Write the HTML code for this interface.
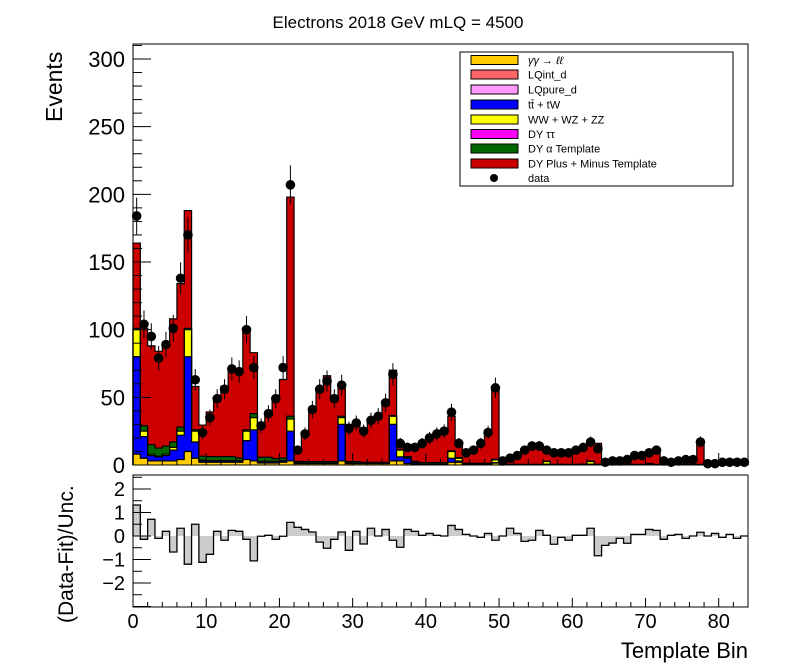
<!DOCTYPE html>
<html><head><meta charset="utf-8">
<style>
html,body{margin:0;padding:0;background:#fff;}
svg{display:block;font-family:"Liberation Sans",Arial,sans-serif;}
</style></head>
<body>
<svg id="chart" width="796" height="672" viewBox="0 0 796 672" xmlns="http://www.w3.org/2000/svg">
<rect width="796" height="672" fill="#fff"/>
<text x="398" y="28" font-size="17" text-anchor="middle">Electrons 2018  GeV mLQ = 4500</text>
<g id="main"></g>
<g id="ratio"></g>
<text transform="translate(62,122) rotate(-90)" font-size="23" text-anchor="start">Events</text>
<text transform="translate(73,623) rotate(-90)" font-size="21" text-anchor="start">(Data-Fit)/Unc.</text>
<text x="748" y="658" font-size="22" text-anchor="end">Template Bin</text>
<g>
<rect x="460" y="52" width="273" height="134" fill="#fff" stroke="#000" stroke-width="1"/>
<rect x="471" y="55.5" width="47" height="9" fill="#ffcc00" stroke="#000"/><text x="528" y="64" font-size="11" font-style="italic">γγ → ℓℓ</text>
<rect x="471" y="70" width="47" height="9" fill="#ff6666" stroke="#000"/><text x="528" y="78.5" font-size="11">LQint_d</text>
<rect x="471" y="85" width="47" height="9" fill="#ff99ff" stroke="#000"/><text x="528" y="93.5" font-size="11">LQpure_d</text>
<rect x="471" y="100" width="47" height="9" fill="#0000ff" stroke="#000"/><text x="528" y="108.5" font-size="11">tt̄ + tW</text>
<rect x="471" y="115" width="47" height="9" fill="#ffff00" stroke="#000"/><text x="528" y="123.5" font-size="11">WW + WZ + ZZ</text>
<rect x="471" y="129.5" width="47" height="9" fill="#ff00ff" stroke="#000"/><text x="528" y="138" font-size="11">DY ττ</text>
<rect x="471" y="144" width="47" height="9" fill="#006600" stroke="#000"/><text x="528" y="152.5" font-size="11">DY α Template</text>
<rect x="471" y="159" width="47" height="9" fill="#cc0000" stroke="#000"/><text x="528" y="167.5" font-size="11">DY Plus + Minus Template</text>
<circle cx="494" cy="178" r="4" fill="#000"/><text x="528" y="182" font-size="11">data</text>
</g>
</svg>
<script>
const dataCounts=[184,104,95,79,89,101,138,170,63,24,35,49,56,71,69,100,72,29,38,49,72,207,11,23,41,56,62,49,59,27,31,25,33,36,46,67,16,13,13,16,20,23,25,39,16,9,11,16,24,57,3,5,7,11,14,14,11,9,9,9,11,13,17,12,2,3,3,4,7,7,9,11,3,2,3,4,4,17,1,1,2,2,2,2];
const bkgYY=[8,5,3,3,3,3,4,10,5,2,2,2,2,2,2,4,3,1.5,1.5,1.5,2,3,1,1,1,1,1,1,3,1,1,1,1,1,1,3,3,1,0.5,0.3,0.3,0.3,0.3,2,2,0.3,0.3,0.3,0.3,1.5,0.1,0.1,0.1,0.1,0.1,0.1,0.5,0.1,0.1,0.1,0.1,0.1,0.5,0.1,0.1,0.1,0.1,0.1,0.1,0.1,0.3,0.1,0.1,0.1,0.1,0.1,0.1,0.1,0.1,0.1,0.1,0.1,0.1,0.1];
const bkgTT=[72,16,4,3,4,8,18,70,12,1,1,1,1,1,1,14,23,1,1,1,1,22,0.5,0.3,0.3,0.3,0.3,0.3,27,0.3,0.3,0.3,0.3,0.3,0.3,27,3,4,1,0.3,0.3,0.3,0.3,3,1,0.3,0.3,0.3,0.3,0.3,0.1,0.1,0.1,0.1,0.1,0.1,0.1,0.1,0.1,0.1,0.1,0.3,0.1,0.1,0.1,0.1,0.1,0.1,0.1,0.1,0.1,0.1,0.1,0.1,0.1,0.1,0.1,0.1,0.1,0.1,0.1,0.1,0.1,0.1];
const bkgVV=[20,4,1,0.5,1,2,3,20,8,0.5,0.2,0.2,0.2,0.2,0.2,7,9,0.2,0.2,0.2,0.2,9,0.2,0.2,0.2,0.2,0.2,0.2,5,0.2,0.2,0.2,0.2,0.2,0.2,6,5,0.2,0.2,0.2,0.2,0.2,0.2,5,2,0.2,0.2,0.2,0.2,2,0.1,0.1,0.1,0.1,0.1,0.1,2,0.1,0.1,0.1,0.1,0.1,2,0.1,0.1,0.1,0.1,0.1,0.1,0.1,0.5,0.1,0.1,0.1,0.1,0.1,0.1,0.1,0.1,0.1,0.1,0.1,0.1,0.1];
const bkgDYalpha=[1,4,7,6,6,4,3,1,1,3,3,3,3,3,2,1,3,3,3,2,2,2,1,1,1,1,1,1,1,1,1,0.5,0.5,0.5,0.5,0.5,0.5,1,1,1,1,1,1,0.5,0.5,0.5,0.5,0.5,0.5,0.5,0.2,0.2,0.2,0.2,0.2,0.2,0.2,0.2,0.2,0.2,0.2,0.2,0.2,0.2,0.2,0.2,0.2,0.2,0.2,0.2,0.2,0.2,0.2,0.2,0.2,0.2,0.2,0.2,0.2,0.2,0.2,0.2,0.2,0.2];
const bkgDYpm=[63,72,73,71.5,76,91,106,87,32,23,33,42,52,65,63,74,45,24,31,43,58,162,8.3,20.5,37.5,54.5,63.5,48.5,21,27.5,27.5,25,29,34,42,33.5,4.5,7.8,12.3,14.2,18.2,21.2,23.2,25.5,8.5,7.7,9.7,14.7,22.7,53.7,2.5,4.5,6.5,10.5,14.5,14.5,8.2,8.5,8.5,9.5,10.5,11.3,13.2,15.5,2.5,2.5,2.5,4,6,6.5,7,9.5,2.5,1.5,1.8,3.5,3.5,16,0.5,0.5,1,1.2,1.2,1.2];
const pulls=[1.32,-0.14,0.71,-0.1,0.2,-0.68,0.33,-1.2,0.5,-1.12,-0.78,0.2,-0.18,0.24,0.2,-0.14,-1.06,-0.01,0.03,-0.14,-0.01,0.58,0.37,0.28,0.17,-0.26,-0.52,-0.14,0.17,-0.61,0.2,-0.34,0.33,0,0.28,-0.18,-0.48,0.28,0.2,0.03,0.11,0.03,0,0.45,0.28,0.07,0,-0.06,0.11,-0.18,0,0.33,0.11,-0.23,-0.18,0.24,0.03,-0.35,-0.06,-0.18,0.03,0.03,0.33,-0.84,-0.4,-0.3,-0.1,-0.31,0.07,0.07,0.28,0.24,-0.14,0.03,0.07,-0.1,0,0.16,0,0.11,-0.06,0.07,-0.1,0];
const yTicksMain=[0,50,100,150,200,250,300];
const yTicksRatio=[-2,-1,0,1,2];
const xTicks=[0,10,20,30,40,50,60,70,80];

const NS="http://www.w3.org/2000/svg";
const X0=133,X1=748,NB=84;
const xs=v=>X0+(X1-X0)*v/NB;
const MT=44,MB=465,ys=v=>MB-v*(406/300);
const RT=475,RB=607,yr=v=>536-v*23.5;
function mk(tag,attrs,parent){const e=document.createElementNS(NS,tag);for(const k in attrs)e.setAttribute(k,attrs[k]);parent.appendChild(e);return e;}
const main=document.getElementById('main');
const ratio=document.getElementById('ratio');
const layers=[[bkgYY,'#ffcc00','stack-gamma-gamma'],[bkgTT,'#0000ff','stack-ttbar'],[bkgVV,'#ffff00','stack-diboson'],[bkgDYalpha,'#006600','stack-dy-alpha'],[bkgDYpm,'#cc0000','stack-dy-plus-minus']];
const cum=new Array(NB).fill(0);
const tops=[];
layers.forEach(([arr,col,name])=>{
  const g=mk('g',{},main);
  
  
  const top=[];
  for(let i=0;i<NB;i++){
    const lo=cum[i],hi=cum[i]+arr[i];
    const r=mk('rect',{x:xs(i),y:ys(hi),width:xs(i+1)-xs(i)+0.3,height:Math.max(0,ys(lo)-ys(hi)),fill:col},g);
    
    
    cum[i]=hi;top.push(hi);
  }
  tops.push(top);
});
tops.forEach(top=>{
  let d='M'+xs(0)+','+ys(0);
  for(let i=0;i<NB;i++){d+=' L'+xs(i)+','+ys(top[i])+' L'+xs(i+1)+','+ys(top[i]);}
  d+=' L'+xs(NB)+','+ys(0);
  const p=mk('path',{d:d,fill:'none',stroke:'#000','stroke-width':1.2},main);
  
  
});
const dg=mk('g',{},main);


dataCounts.forEach((v,i)=>{
  const cx=(xs(i)+xs(i+1))/2,e=Math.sqrt(v);
  const l=mk('line',{x1:cx,x2:cx,y1:ys(v+e),y2:ys(Math.max(0,v-e)),stroke:'#000','stroke-width':1},dg);
  
  
  const c=mk('circle',{cx:cx,cy:ys(v),r:4.8,fill:'#000'},dg);
  
  
});
const mf=mk('rect',{x:X0,y:MT,width:X1-X0,height:MB-MT,fill:'none',stroke:'#000','stroke-width':1},main);


for(let v=0;v<=310;v+=10){const maj=v%50===0;mk('line',{x1:X0,x2:X0+(maj?18:9),y1:ys(v),y2:ys(v),stroke:'#000'},main);}
yTicksMain.forEach(v=>{const t=mk('text',{x:125,y:ys(v)+8,'font-size':22,'text-anchor':'end'},main);t.textContent=v;
 
 });
for(let v=0;v<=84;v+=2){const maj=v%10===0;mk('line',{x1:xs(v),x2:xs(v),y1:MB,y2:MB-(maj?12:6),stroke:'#000'},main);}
const rg=mk('g',{},ratio);


pulls.forEach((v,i)=>{
  const r=mk('rect',{x:xs(i),y:Math.min(yr(v),yr(0)),width:xs(i+1)-xs(i)+0.3,height:Math.abs(yr(v)-yr(0)),fill:'#cccccc'},rg);
  
  
});
let d='M'+xs(0)+','+yr(0);
pulls.forEach((v,i)=>{d+=' L'+xs(i)+','+yr(v)+' L'+xs(i+1)+','+yr(v);});
mk('path',{d:d,fill:'none',stroke:'#000','stroke-width':1.3},rg);
const rf=mk('rect',{x:X0,y:RT,width:X1-X0,height:RB-RT,fill:'none',stroke:'#000','stroke-width':1},ratio);


for(let v=-3;v<=2.6;v+=0.5){const maj=Math.abs(v-Math.round(v))<1e-6;mk('line',{x1:X0,x2:X0+(maj?18:9),y1:yr(v),y2:yr(v),stroke:'#000'},ratio);}
yTicksRatio.forEach(v=>{const t=mk('text',{x:125,y:yr(v)+7,'font-size':20,'text-anchor':'end'},ratio);t.textContent=v===0?'0':(v<0?'\u2212'+(-v):v);
 
 });
for(let v=0;v<=84;v+=2){const maj=v%10===0;mk('line',{x1:xs(v),x2:xs(v),y1:RB,y2:RB-(maj?9:5),stroke:'#000'},ratio);}
xTicks.forEach(v=>{const t=mk('text',{x:xs(v),y:628,'font-size':20,'text-anchor':'middle'},ratio);t.textContent=v;
 
 });
</script>
</body></html>
